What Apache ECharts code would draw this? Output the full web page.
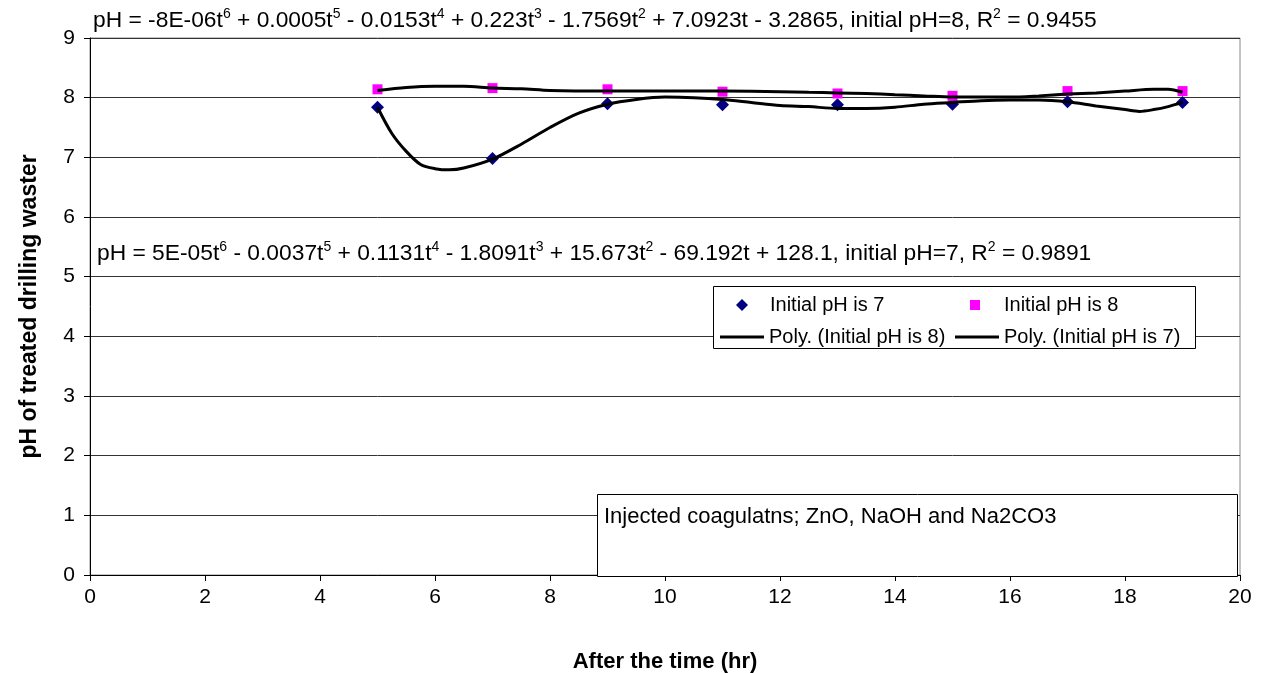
<!DOCTYPE html>
<html>
<head>
<meta charset="utf-8">
<title>pH of treated drilling waster</title>
<script src="https://cdn.jsdelivr.net/npm/echarts@6/dist/echarts.min.js"></script>
<style>
  html, body { margin: 0; padding: 0; background: #fff; }
  #main { width: 1264px; height: 673px; }
</style>
</head>
<body>
<div id="main"></div>
<script>
// measured points (hr, pH)
var sampleTime = [5, 7, 9, 11, 13, 15, 17, 19];
var phInit7 = [7.84, 6.98, 7.90, 7.88, 7.88, 7.89, 7.93, 7.92];
var phInit8 = [8.14, 8.16, 8.14, 8.10, 8.07, 8.03, 8.11, 8.11];

// trend lines
var trendTime8 = [5, 5.5, 6, 6.5, 7, 7.5, 8, 9, 10, 11, 12, 12.5, 13, 13.5, 14, 14.5, 15, 15.5, 16, 16.5, 17, 17.5, 18, 18.5, 18.75, 19];
var trendPh8 = [8.12, 8.17, 8.19, 8.19, 8.16, 8.15, 8.12, 8.11, 8.11, 8.11, 8.10, 8.09, 8.08, 8.07, 8.05, 8.03, 8.01, 8.01, 8.01, 8.03, 8.06, 8.08, 8.11, 8.14, 8.14, 8.09];
var trendTime7 = [5, 5.25, 5.5, 5.75, 6, 6.25, 6.5, 7, 7.5, 8, 8.5, 9, 9.5, 10, 10.5, 11, 11.5, 12, 12.5, 13, 13.5, 14, 14.5, 15, 15.5, 16, 16.5, 17, 17.5, 18, 18.25, 18.5, 18.75, 19];
var trendPh7 = [7.84, 7.40, 7.10, 6.88, 6.81, 6.79, 6.82, 6.97, 7.22, 7.50, 7.74, 7.89, 7.97, 8.01, 8.00, 7.97, 7.92, 7.87, 7.85, 7.82, 7.82, 7.84, 7.89, 7.92, 7.95, 7.96, 7.96, 7.93, 7.86, 7.80, 7.77, 7.80, 7.85, 7.92];

var xTicks = [0, 20, 2];
var yTicks = [0, 9, 1];

function pairs(xs, ys) {
  var out = [];
  for (var i = 0; i < xs.length; i++) out.push([xs[i], ys[i]]);
  return out;
}

var FONT = "'Liberation Sans', Arial, sans-serif";
var supStyle = { s: { fontSize: 14, verticalAlign: 'top', lineHeight: 16, fontFamily: FONT } };
var legendText = { fontSize: 20, color: '#000', fontFamily: FONT };

// one legend per entry so each sits where the original put it
function legendAt(name, icon, left, top, w, h, padLeft) {
  var item = { name: name };
  if (icon) item.icon = icon;
  return {
    left: left, top: top, z: 10, padding: 0,
    itemWidth: w, itemHeight: h,
    textStyle: Object.assign({ padding: [0, 0, 0, padLeft] }, legendText),
    data: [item]
  };
}

var chart = echarts.init(document.getElementById('main'));
chart.setOption({
  animation: false,
  backgroundColor: '#fff',
  textStyle: { fontFamily: FONT },
  grid: {
    left: 90, right: 24, top: 38, bottom: 98,
    outerBoundsMode: 'none',
    show: true, borderColor: '#888', borderWidth: 1
  },
  xAxis: {
    type: 'value',
    min: xTicks[0], max: xTicks[1], interval: xTicks[2],
    name: 'After the time (hr)',
    nameLocation: 'middle', nameGap: 76,
    nameTextStyle: { fontSize: 22, fontWeight: 'bold', color: '#000', fontFamily: FONT },
    axisLine: { lineStyle: { color: '#000', width: 1 } },
    axisTick: { show: true, length: 6, lineStyle: { color: '#000' } },
    axisLabel: { fontSize: 21, color: '#000', margin: 12, fontFamily: FONT },
    splitLine: { show: false }
  },
  yAxis: {
    type: 'value',
    min: yTicks[0], max: yTicks[1], interval: yTicks[2],
    name: 'pH of treated drilling waster',
    nameLocation: 'middle', nameGap: 49,
    nameTextStyle: { fontSize: 23, fontWeight: 'bold', color: '#000', fontFamily: FONT },
    axisLine: { show: true, lineStyle: { color: '#000', width: 1 } },
    axisTick: { show: true, length: 6, lineStyle: { color: '#000' } },
    axisLabel: { fontSize: 21, color: '#000', margin: 15, fontFamily: FONT },
    splitLine: { show: true, lineStyle: { color: '#333', width: 1 } }
  },
  legend: [
    legendAt('Initial pH is 7', null, 736, 295, 12, 12, 17),
    legendAt('Initial pH is 8', null, 970, 295, 10, 10, 19),
    legendAt('Poly. (Initial pH is 8)', 'rect', 720, 327, 44, 3, 0),
    legendAt('Poly. (Initial pH is 7)', 'rect', 955, 327, 44, 3, 0)
  ],
  graphic: [
    {
      type: 'rect', left: 713, top: 286, z: 3,
      shape: { width: 482, height: 62 },
      style: { fill: '#fff', stroke: '#000', lineWidth: 1 }
    },
    {
      type: 'rect', left: 597, top: 494, z: 3,
      shape: { width: 640, height: 82 },
      style: { fill: '#fff', stroke: '#000', lineWidth: 1 }
    },
    {
      type: 'text', left: 604, top: 506, z: 6,
      style: { text: 'Injected coagulatns; ZnO, NaOH and Na2CO3', fontSize: 22, fill: '#000', fontFamily: FONT }
    },
    {
      type: 'text', left: 93, top: 7, z: 6,
      style: {
        text: 'pH = -8E-06t{s|6} + 0.0005t{s|5} - 0.0153t{s|4} + 0.223t{s|3} - 1.7569t{s|2} + 7.0923t - 3.2865, initial pH=8, R{s|2} = 0.9455',
        fontSize: 22.8, fill: '#000', fontFamily: FONT, lineHeight: 27,
        rich: supStyle
      }
    },
    {
      type: 'text', left: 97, top: 240, z: 6,
      style: {
        text: 'pH = 5E-05t{s|6} - 0.0037t{s|5} + 0.1131t{s|4} - 1.8091t{s|3} + 15.673t{s|2} - 69.192t + 128.1, initial pH=7, R{s|2} = 0.9891',
        fontSize: 22.8, fill: '#000', fontFamily: FONT, lineHeight: 27,
        rich: supStyle
      }
    }
  ],
  series: [
    {
      name: 'Initial pH is 7', type: 'scatter',
      symbol: 'diamond', symbolSize: 13,
      itemStyle: { color: '#000080', opacity: 1 },
      data: pairs(sampleTime, phInit7), z: 3
    },
    {
      name: 'Initial pH is 8', type: 'scatter',
      symbol: 'rect', symbolSize: 10,
      itemStyle: { color: '#ff00ff', opacity: 1 },
      data: pairs(sampleTime, phInit8), z: 3
    },
    {
      name: 'Poly. (Initial pH is 8)', type: 'line',
      symbol: 'none', smooth: 0.3,
      lineStyle: { color: '#000', width: 3 },
      itemStyle: { color: '#000' },
      data: pairs(trendTime8, trendPh8), z: 4
    },
    {
      name: 'Poly. (Initial pH is 7)', type: 'line',
      symbol: 'none', smooth: 0.3,
      lineStyle: { color: '#000', width: 3 },
      itemStyle: { color: '#000' },
      data: pairs(trendTime7, trendPh7), z: 4
    }
  ]
});
</script>
</body>
</html>
